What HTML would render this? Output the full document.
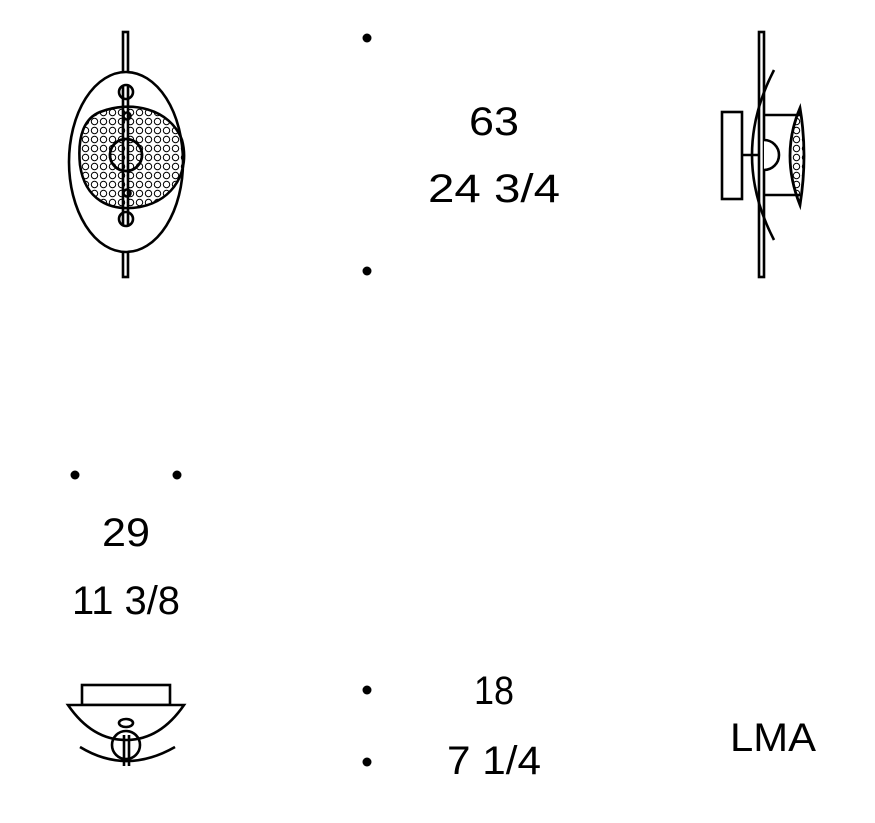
<!DOCTYPE html>
<html><head><meta charset="utf-8"><style>html,body{margin:0;padding:0;background:#fff}svg{display:block}</style></head>
<body>
<svg width="875" height="823" viewBox="0 0 875 823" xmlns="http://www.w3.org/2000/svg" font-family="Liberation Sans, sans-serif" fill="none" stroke="#000" stroke-width="2.6">
<defs>
<pattern id="dots" width="9" height="9" patternUnits="userSpaceOnUse">
<circle cx="4.5" cy="4.5" r="3.2" stroke-width="1"/>
</pattern>
<clipPath id="blob"><path d="M100,112 C130,100 170,108 182,140 C190,170 175,200 140,207 C110,212 85,200 80,165 C77,135 85,118 100,112 Z"/></clipPath>
</defs>
<!-- front view -->
<rect x="123" y="32" width="5" height="245" fill="#fff"/>
<ellipse cx="126" cy="162" rx="57" ry="90" fill="#fff"/>
<rect x="80" y="100" width="110" height="115" fill="url(#dots)" clip-path="url(#blob)" stroke="none"/>
<path d="M100,112 C130,100 170,108 182,140 C190,170 175,200 140,207 C110,212 85,200 80,165 C77,135 85,118 100,112 Z"/>
<circle cx="126" cy="155" r="16" fill="#fff"/>
<circle cx="126" cy="155" r="16" fill="url(#dots)"/>
<circle cx="126" cy="92" r="7" fill="#fff"/>
<circle cx="126" cy="219" r="7" fill="#fff"/>
<circle cx="127" cy="116" r="3.5" fill="#fff"/>
<circle cx="127" cy="193" r="3.5" fill="#fff"/>
<line x1="123" y1="85" x2="123" y2="226"/><line x1="128" y1="85" x2="128" y2="226"/>
<!-- side view -->
<rect x="759" y="32" width="5" height="245" fill="#fff"/>
<rect x="722" y="112" width="20" height="87" fill="#fff"/>
<path d="M774,70 Q730,155 774,240"/>
<line x1="742" y1="155" x2="760" y2="155"/>
<line x1="764" y1="115" x2="800" y2="115"/>
<line x1="764" y1="195" x2="800" y2="195"/>
<path d="M764,140 A15,15 0 0 1 764,170" fill="#fff"/>
<path d="M800,108 Q780,155 800,205 Q808,155 800,108 Z" fill="url(#dots)" stroke-width="2.8"/>
<!-- bottom view -->
<rect x="82" y="685" width="88" height="20" fill="#fff"/>
<path d="M68,705 L184,705 Q160,740 126,740 Q92,740 68,705 Z" fill="#fff"/>
<ellipse cx="126" cy="723" rx="7" ry="4"/>
<path d="M112,745 A14,14 0 0 1 140,745 A14,14 0 0 1 112,745 Z"/>
<line x1="124" y1="735" x2="124" y2="766"/><line x1="129" y1="735" x2="129" y2="766"/>
<path d="M80,747 Q126,775 175,747"/>
<!-- dots -->
<g fill="#000" stroke="none">
<circle cx="367" cy="38" r="4.5"/><circle cx="367" cy="271" r="4.5"/>
<circle cx="75" cy="475" r="4.5"/><circle cx="177" cy="475" r="4.5"/>
<circle cx="367" cy="690" r="4.5"/><circle cx="367" cy="762" r="4.5"/>
</g>
<g fill="#000" stroke="none" font-size="40" text-anchor="middle">
<text x="494" y="135" textLength="50" lengthAdjust="spacingAndGlyphs">63</text>
<text x="494" y="202" textLength="132" lengthAdjust="spacingAndGlyphs">24 3/4</text>
<text x="126" y="546" textLength="48" lengthAdjust="spacingAndGlyphs">29</text>
<text x="126" y="614" textLength="108" lengthAdjust="spacingAndGlyphs">11 3/8</text>
<text x="494" y="704" textLength="40" lengthAdjust="spacingAndGlyphs">18</text>
<text x="494" y="774" textLength="94" lengthAdjust="spacingAndGlyphs">7 1/4</text>
<text x="773" y="751" textLength="86" lengthAdjust="spacingAndGlyphs">LMA</text>
</g>
</svg>
</body></html>
